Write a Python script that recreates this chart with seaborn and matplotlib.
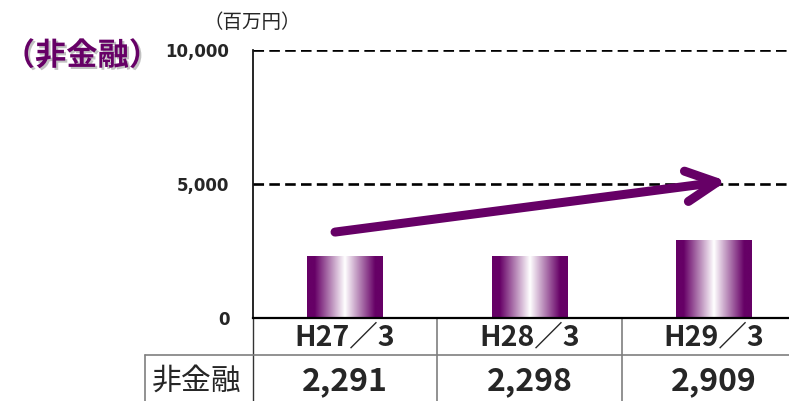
import numpy as np
import matplotlib
matplotlib.use("Agg")
import matplotlib.pyplot as plt
import seaborn as sns
from matplotlib.colors import LinearSegmentedColormap
from matplotlib.lines import Line2D
from matplotlib.patches import FancyArrowPatch, ArrowStyle
import matplotlib.patheffects as pe
import matplotlib.transforms as mtransforms

# data
categories = ['H27／3', 'H28／3', 'H29／3']
values = [2291, 2298, 2909]
value_labels = ['2,291', '2,298', '2,909']
row_label = '非金融'
y_ticks = [0, 5000, 10000]
y_tick_labels = ['0', '5,000', '10,000']
title = '（非金融）'
unit = '（百万円）'
arrow_start = (-0.055, 3200)
arrow_end = (2.07, 5100)

purple = '#660066'
cjk = ['Noto Sans CJK JP', 'DejaVu Sans']

sns.set_theme(style='white')
plt.rcParams['font.family'] = cjk

fig = plt.figure(figsize=(7.89, 4.01), dpi=100)
ax = fig.add_axes([253 / 789, 83 / 401, 553 / 789, 268.5 / 401])

sns.barplot(x=categories, y=values, width=0.41, color=purple, ax=ax)

# horizontal gradient: dark edges, white centre
cmap = LinearSegmentedColormap.from_list(
    'bar', [(0, purple), (0.1, purple), (0.5, 'white'), (0.9, purple), (1, purple)])
grad = np.linspace(0, 1, 256).reshape(1, -1)
for p in ax.patches:
    x0, y0 = p.get_x(), p.get_y()
    w, h = p.get_width(), p.get_height()
    im = ax.imshow(grad, cmap=cmap, aspect='auto', extent=[x0, x0 + w, y0, y0 + h],
                   zorder=2)
    im.set_clip_path(p)
    p.set_facecolor('none')
    p.set_edgecolor('none')

ax.set_xlim(-0.5, 2.5)
ax.set_ylim(0, 10000)
ax.set_yticks(y_ticks)
ax.set_yticklabels(y_tick_labels, family='DejaVu Sans', fontweight='bold', fontsize=12)
ax.tick_params(axis='y', length=0, pad=17)
ax.set_xticks([])
ax.set_xlabel('')
ax.set_ylabel('')

ax.grid(False)
for yv in y_ticks[1:]:
    ax.axhline(yv, color='black', lw=1.9, ls=(0, (4, 2)), zorder=1)

sns.despine(ax=ax, top=True, right=True)
ax.spines['left'].set_color('black')
ax.spines['left'].set_linewidth(1.2)
ax.spines['bottom'].set_color('black')
ax.spines['bottom'].set_linewidth(1.6)

# table below the axis
blend = mtransforms.blended_transform_factory(ax.transData, ax.transAxes)
y_bot = -0.32
y_div = -0.138
x_left = (145 - 253) / 553
for xb in [0.5, 1.5]:
    ax.add_line(Line2D([xb, xb], [0, y_bot], transform=blend, color='#7f7f7f',
                       lw=1.2, clip_on=False))
ax.add_line(Line2D([0, 0], [0, y_bot], transform=ax.transAxes, color='#333333',
                   lw=1.0, clip_on=False))
ax.add_line(Line2D([x_left, 1], [y_div, y_div], transform=ax.transAxes,
                   color='#7f7f7f', lw=1.2, clip_on=False))
ax.add_line(Line2D([x_left, x_left], [y_div, y_bot], transform=ax.transAxes,
                   color='#7f7f7f', lw=1.2, clip_on=False))

for i, (cat, lab) in enumerate(zip(categories, value_labels)):
    ax.text(i, -0.071, cat, transform=blend, ha='center', va='center',
            fontsize=20.5, fontweight='bold')
    ax.text(i, -0.235, lab, transform=blend, ha='center', va='center',
            fontsize=23, fontweight='bold')
ax.text((197 - 253) / 553, -0.235, row_label, transform=ax.transAxes,
        ha='center', va='center', fontsize=21.5)

# growth arrow
arrow = FancyArrowPatch(arrow_start, arrow_end, transform=ax.transData,
                        arrowstyle=ArrowStyle('->', head_length=1.1, head_width=0.55),
                        mutation_scale=20, color=purple, lw=6.5,
                        shrinkA=0, shrinkB=0,
                        capstyle='round', joinstyle='round', zorder=5)
ax.add_patch(arrow)

fig.text(160 / 789, 1 - 56 / 401, title, ha='right', va='center', fontsize=22.5,
         fontweight='bold', color=purple,
         path_effects=[pe.withSimplePatchShadow(offset=(1.5, -1.5), shadow_rgbFace='#999999', alpha=0.6)])
fig.text(252 / 789, 1 - 22 / 401, unit, ha='center', va='center', fontsize=14)

fig.savefig('out.png', dpi=100)
